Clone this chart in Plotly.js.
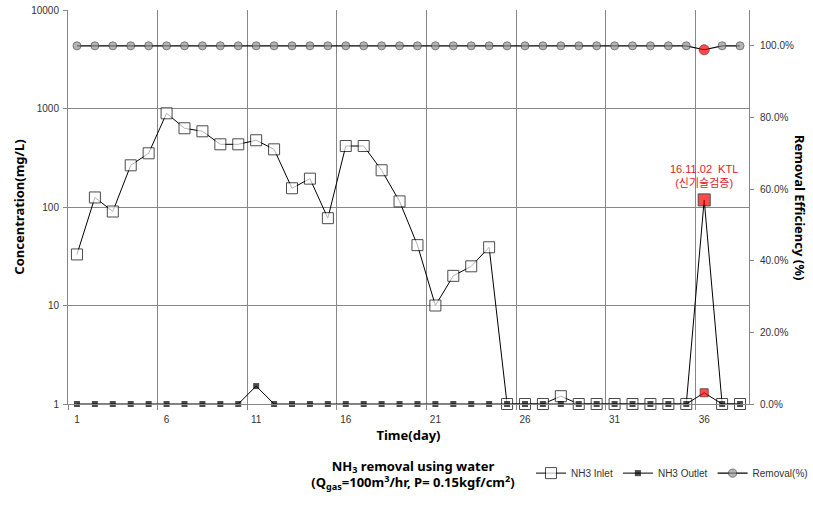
<!DOCTYPE html>
<html>
<head>
<meta charset="utf-8">
<script src="https://cdn.plot.ly/plotly-3.0.1.min.js"></script>
<style>html,body{margin:0;padding:0;background:#fff;}#chart{width:813px;height:506px;}</style>
</head>
<body>
<div id="chart"></div>
<script>
// ---- data ----
const days = [1,2,3,4,5,6,7,8,9,10,11,12,13,14,15,16,17,18,19,20,21,22,23,24,25,26,27,28,29,30,31,32,33,34,35,36,37,38];
const inlet = [33,125,90,265,351,894,630,587,433,433,476,385,155,194,77,416,416,236,114,41,10,20,25,39,1,1,1,1.2,1,1,1,1,1,1,1,118,1,1];
const outlet = [1,1,1,1,1,1,1,1,1,1,1.52,1,1,1,1,1,1,1,1,1,1,1,1,1,1,1,1,1,1,1,1,1,1,1,1,1.3,1,1];
const removal = [1,1,1,1,1,1,1,1,1,1,1,1,1,1,1,1,1,1,1,1,1,1,1,1,1,1,1,1,1,1,1,1,1,1,1,0.989,1,1];
const highlightDay = 36;
const xTickVals = [1,6,11,16,21,26,31,36];
const yTickVals = [1,10,100,1000,10000];
const yTickText = ['1','10','100','1000','10000'];
const y2TickVals = [0,0.2,0.4,0.6,0.8,1.0];
const seriesNames = ['NH3 Inlet','NH3 Outlet','Removal(%)'];
const noteText = '16.11.02  KTL<br>(신기술검증)';

// ---- styling helpers ----
const RED = '#FF0000';
const hi = days.map(d => d === highlightDay);
const GRID = '#878787';
const FONT = 'Liberation Sans, Arial, "Noto Sans CJK KR", sans-serif';
const TFONT = '"Noto Sans", "Open Sans", "Noto Sans CJK KR", sans-serif';

const traces = [
  {
    x: days, y: inlet, name: seriesNames[0], type: 'scatter', mode: 'lines+markers', cliponaxis: false,
    line: {color: '#000', width: 1},
    marker: {symbol: 'square', size: hi.map(h => h ? 12 : 11),
             color: hi.map(h => h ? RED : '#fff'),
             line: {color: '#000', width: 1}}
  },
  {
    x: days, y: outlet, name: seriesNames[1], type: 'scatter', mode: 'lines+markers', cliponaxis: false,
    line: {color: '#000', width: 1},
    marker: {symbol: 'square', size: hi.map(h => h ? 8 : 6),
             color: hi.map(h => h ? RED : '#000'),
             line: {color: hi.map(h => h ? '#400000' : '#000'), width: hi.map(h => h ? 1 : 0)}}
  },
  {
    x: days, y: removal, yaxis: 'y2', name: seriesNames[2], type: 'scatter', mode: 'lines+markers', cliponaxis: false,
    line: {color: '#000', width: 1.2},
    marker: {symbol: 'circle', size: hi.map(h => h ? 10 : 8),
             color: hi.map(h => h ? RED : '#979797'),
             line: {color: hi.map(h => h ? '#7a0000' : '#404040'), width: 1}}
  }
];

const hiIdx = days.indexOf(highlightDay);

const layout = {
  width: 813, height: 506,
  margin: {l: 68, r: 64, t: 10, b: 102},
  paper_bgcolor: '#fff', plot_bgcolor: '#fff',
  font: {family: FONT, size: 10, color: '#333'},
  showlegend: true,
  legend: {orientation: 'h', xref: 'container', yref: 'container', x: 1, xanchor: 'right',
           y: 0.065, yanchor: 'middle', font: {family: FONT, size: 10, color: '#333'},
           traceorder: 'normal', itemwidth: 30, bgcolor: 'rgba(0,0,0,0)'},
  title: {text: 'NH<sub>3</sub> removal using water<br>(Q<sub>gas</sub>=100m<sup>3</sup>/hr, P= 0.15kgf/cm<sup>2</sup>)',
          font: {family: TFONT, size: 13, color: '#000', weight: 'bold'},
          xref: 'container', yref: 'container', x: 0.508, xanchor: 'center', y: 0.07, yanchor: 'middle'},
  xaxis: {
    type: 'linear', range: [0.5, 38.5], tickmode: 'array', tickvals: xTickVals,
    showgrid: false, zeroline: false, ticks: '', showline: true, linecolor: GRID, linewidth: 1,
    ticklabelstandoff: 6,
    tickfont: {family: FONT, size: 10, color: '#333'},
    minor: {tickmode: 'linear', tick0: 0.5, dtick: 5, showgrid: true, gridcolor: GRID, gridwidth: 1,
            ticks: 'outside', ticklen: 5, tickcolor: GRID},
    title: {text: 'Time(day)', font: {family: TFONT, size: 13, color: '#000', weight: 'bold'}, standoff: 6}
  },
  yaxis: {
    type: 'log', range: [0, 4], tickmode: 'array', tickvals: yTickVals, ticktext: yTickText,
    showgrid: true, gridcolor: GRID, gridwidth: 1, showline: true, linecolor: GRID, mirror: false,
    ticks: 'outside', ticklen: 4, tickcolor: GRID, zeroline: false,
    ticklabelstandoff: 2,
    tickfont: {family: FONT, size: 10, color: '#333'},
    title: {text: 'Concentration(mg/L)', font: {family: TFONT, size: 13, color: '#000', weight: 'bold'}, standoff: 3}
  },
  yaxis2: {
    overlaying: 'y', side: 'right', range: [0, 1.1], tickmode: 'array', tickvals: y2TickVals,
    tickformat: '.1%', showgrid: false, zeroline: false, showline: true, linecolor: GRID,
    ticks: 'outside', ticklen: 4, tickcolor: GRID, ticklabelstandoff: 4,
    tickfont: {family: FONT, size: 10, color: '#333'}
  },
  annotations: [
    {xref: 'paper', yref: 'paper', x: 1.0749, y: 0.5, text: 'Removal Efficiency (%)', textangle: 90,
     showarrow: false, font: {family: TFONT, size: 13, color: '#000', weight: 'bold'},
     xanchor: 'center', yanchor: 'middle'},
    {xref: 'x', yref: 'y', x: highlightDay, y: Math.log10(inlet[hiIdx]), text: noteText,
     showarrow: false, yanchor: 'bottom', yshift: 9, align: 'center',
     font: {family: FONT, size: 11, color: '#E0202A'}}
  ]
};

Plotly.newPlot('chart', traces, layout, {displayModeBar: false, staticPlot: true});
</script>
</body>
</html>
